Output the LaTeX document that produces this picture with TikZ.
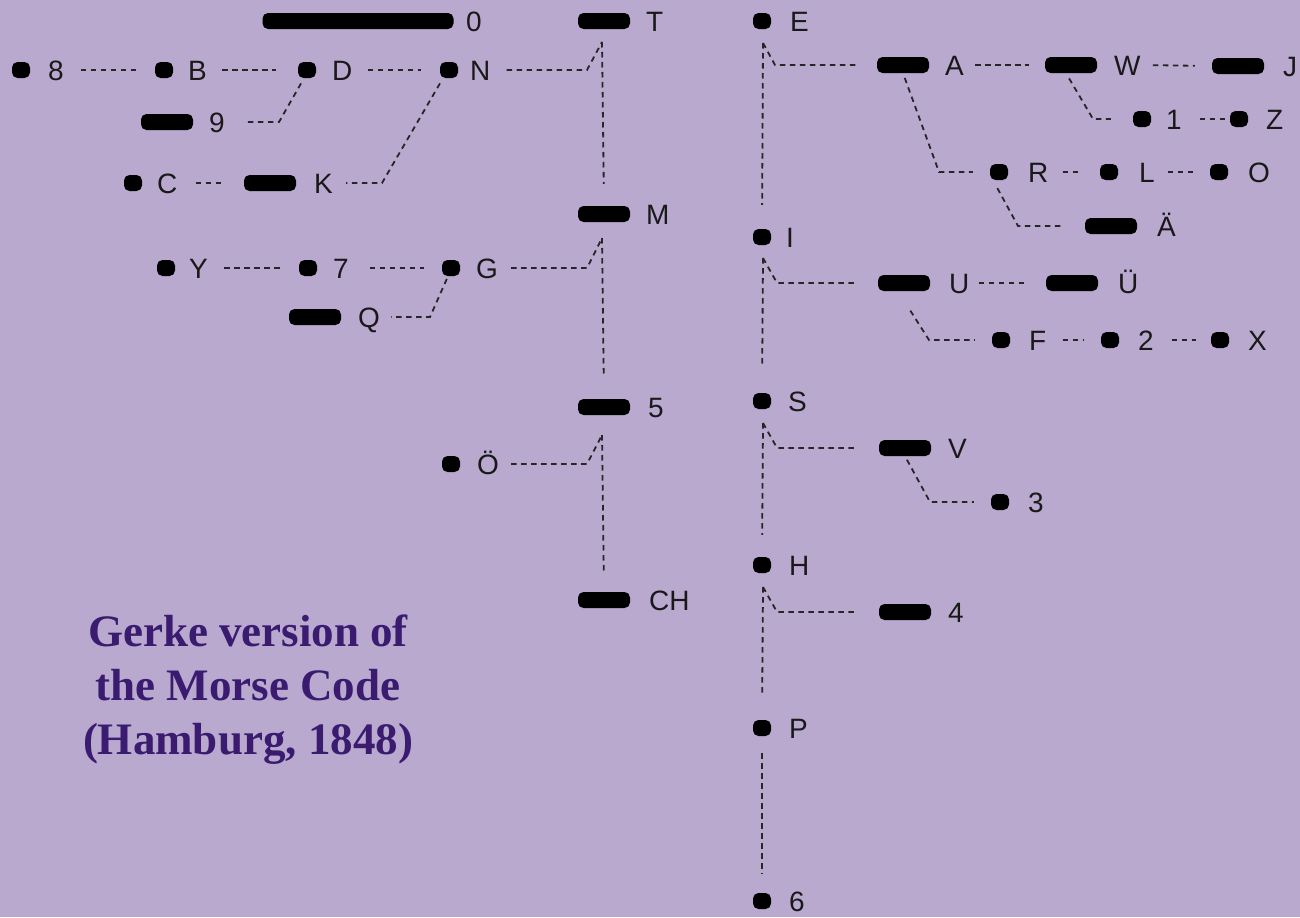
\documentclass[tikz,border=0pt]{standalone}
\usepackage{fontspec}
\setmainfont{Liberation Sans}
\newfontfamily\titlefont{Liberation Serif}
\definecolor{bgc}{HTML}{B9A9CF}
\definecolor{titlec}{HTML}{3A1B70}
\begin{document}
\begin{tikzpicture}[x=1bp,y=-1bp,
  dotsym/.style={fill=black, rounded corners=5.5bp, minimum width=18bp, minimum height=16bp, inner sep=0pt},
  dashsym/.style={dotsym, minimum width=52bp},
  lbl/.style={anchor=west, inner sep=0pt, text height=20bp, text depth=0pt, font=\fontsize{28bp}{28bp}\selectfont, text=black!90},
  conn/.style={draw=black!85, line width=1.8bp, dash pattern=on 5.5bp off 4.5bp}]
\useasboundingbox (0,0) rectangle (1300,917);
\fill[bgc] (0,0) rectangle (1300,917);
% ---------- left tree symbols
\node[dotsym, minimum width=191bp] (s0) at (358,21) {};
\node[dashsym] (sT) at (604,21) {};
\node[dotsym] (s8) at (21,70) {};
\node[dotsym] (sB) at (164,70) {};
\node[dotsym] (sD) at (307,70) {};
\node[dotsym] (sN) at (449,70) {};
\node[dashsym] (s9) at (167,122) {};
\node[dotsym] (sC) at (133,183) {};
\node[dashsym] (sK) at (270,183) {};
\node[dashsym] (sM) at (604,214) {};
\node[dotsym] (sY) at (166,268) {};
\node[dotsym] (s7) at (308,268) {};
\node[dotsym] (sG) at (451,268) {};
\node[dashsym] (sQ) at (315,317) {};
\node[dashsym] (s5) at (604,407) {};
\node[dotsym] (sOe) at (451,464) {};
\node[dashsym] (sCH) at (604,600) {};
% ---------- left labels
\node[lbl] (l0) at (466,21) {0};
\node[lbl] (lT) at (646,21) {T};
\node[lbl] (l8) at (48,70) {8};
\node[lbl] (lB) at (188,70) {B};
\node[lbl] (lD) at (332,70) {D};
\node[lbl] (lN) at (470,70) {N};
\node[lbl] (l9) at (209,122) {9};
\node[lbl] (lC) at (157,183) {C};
\node[lbl] (lK) at (314,183) {K};
\node[lbl] (lM) at (646,214) {M};
\node[lbl] (lY) at (189,268) {Y};
\node[lbl] (l7) at (333,268) {7};
\node[lbl] (lG) at (476,268) {G};
\node[lbl] (lQ) at (358,317) {Q};
\node[lbl] (l5) at (648,407) {5};
\node[lbl] (lOe) at (477,464) {Ö};
\node[lbl] (lCH) at (649,600) {CH};
% ---------- right tree symbols
\node[dotsym] (sE) at (762,21) {};
\node[dashsym] (sA) at (903,65) {};
\node[dashsym] (sW) at (1071,65) {};
\node[dashsym] (sJ) at (1238,66) {};
\node[dotsym] (s1) at (1142,119) {};
\node[dotsym] (sZ) at (1239,119) {};
\node[dotsym] (sR) at (999,172) {};
\node[dotsym] (sL) at (1109,172) {};
\node[dotsym] (sO) at (1219,172) {};
\node[dashsym] (sAe) at (1111,226) {};
\node[dotsym] (sI) at (762,237) {};
\node[dashsym] (sU) at (904,283) {};
\node[dashsym] (sUe) at (1072,283) {};
\node[dotsym] (sF) at (1001,340) {};
\node[dotsym] (s2) at (1110,340) {};
\node[dotsym] (sX) at (1220,340) {};
\node[dotsym] (sS) at (762,401) {};
\node[dashsym] (sV) at (905,448) {};
\node[dotsym] (s3) at (1000,502) {};
\node[dotsym] (sH) at (762,565) {};
\node[dashsym] (s4) at (905,612) {};
\node[dotsym] (sP) at (762,728) {};
\node[dotsym] (s6) at (762,901) {};
% ---------- right labels
\node[lbl] (lE) at (790,21) {E};
\node[lbl] (lA) at (945,65) {A};
\node[lbl] (lW) at (1114,65) {W};
\node[lbl] (lJ) at (1283,66) {J};
\node[lbl] (l1) at (1166,119) {1};
\node[lbl] (lZ) at (1266,119) {Z};
\node[lbl] (lR) at (1028,172) {R};
\node[lbl] (lL) at (1139,172) {L};
\node[lbl] (lO) at (1248,172) {O};
\node[lbl] (lAe) at (1157,226) {Ä};
\node[lbl] (lI) at (786,237) {I};
\node[lbl] (lU) at (949,283) {U};
\node[lbl] (lUe) at (1118,283) {Ü};
\node[lbl] (lF) at (1029,340) {F};
\node[lbl] (l2) at (1138,340) {2};
\node[lbl] (lX) at (1248,340) {X};
\node[lbl] (lS) at (788,401) {S};
\node[lbl] (lV) at (948,448) {V};
\node[lbl] (l3) at (1028,502) {3};
\node[lbl] (lH) at (789,565) {H};
\node[lbl] (l4) at (948,612) {4};
\node[lbl] (lP) at (789,728) {P};
\node[lbl] (l6) at (789,901) {6};
% ---------- title
\node[font=\titlefont\bfseries\fontsize{45bp}{54bp}\selectfont, text=titlec, align=center] (title) at (248,690)
  {Gerke version of\\the Morse Code\\(Hamburg, 1848)};
% ---------- junction coordinates
\coordinate (jT) at (602,42);  \coordinate (kN) at (587,70);
\coordinate (jM) at (602,238); \coordinate (kG) at (587,268);
\coordinate (j5) at (602,435); \coordinate (kOe) at (587,464);
\coordinate (k9) at (279,122); \coordinate (kK) at (382,183);
\coordinate (kQ) at (430,317);
\coordinate (jE) at (763,43);  \coordinate (kA) at (775,65);
\coordinate (jI) at (763,258); \coordinate (kU) at (777,283);
\coordinate (jS) at (763,423); \coordinate (kV) at (777,448);
\coordinate (jH) at (763,587); \coordinate (k4) at (777,612);
\coordinate (k1) at (1093,119); \coordinate (kR) at (939,172);
\coordinate (kAe) at (1018,226); \coordinate (kF) at (929,340);
\coordinate (k3) at (930,502);
% ---------- left connectors
\draw[conn, shorten <=17bp, shorten >=18bp] (l8.east) -- (sB.west);
\draw[conn, shorten <=15bp, shorten >=22bp] (lB.east) -- (sD.west);
\draw[conn, shorten <=15bp, shorten >=19bp] (lD.east) -- (sN.west);
\draw[conn, shorten <=16bp] (lN.east) -- (kN) -- (jT);
\draw[conn, shorten >=22bp] (jT) -- (sM.north);
\draw[conn, shorten <=6bp, shorten >=20bp] ([xshift=-3bp]sD.south) -- (k9) -- (l9.east);
\draw[conn, shorten <=6bp, shorten >=13bp] ([xshift=-6bp]sN.south) -- (kK) -- (lK.east);
\draw[conn, shorten <=18bp, shorten >=20bp] (lC.east) -- (sK.west);
\draw[conn, shorten <=16bp, shorten >=17bp] (lY.east) -- (s7.west);
\draw[conn, shorten <=21bp, shorten >=18bp] (l7.east) -- (sG.west);
\draw[conn, shorten <=13bp] (lG.east) -- (kG) -- (jM);
\draw[conn, shorten >=21bp] (jM) -- (s5.north);
\draw[conn, shorten <=3bp, shorten >=11bp] ([xshift=-3bp]sG.south) -- (kQ) -- (lQ.east);
\draw[conn, shorten <=12bp] (lOe.east) -- (kOe) -- (j5);
\draw[conn, shorten >=18bp] (j5) -- (sCH.north);
% ---------- right connectors
\draw[conn, shorten >=24bp] (jE) -- (sI.north);
\draw[conn, shorten >=20bp] (jE) -- (kA) -- (sA.west);
\draw[conn, shorten <=11bp, shorten >=16bp] (lA.east) -- (sW.west);
\draw[conn, shorten <=12bp, shorten >=17bp] (lW.east) -- (sJ.west);
\draw[conn, shorten <=6bp, shorten >=22bp] ([xshift=-5bp]sW.south) -- (k1) -- (s1.west);
\draw[conn, shorten <=18bp, shorten >=5bp] (l1.east) -- (sZ.west);
\draw[conn, shorten <=5bp, shorten >=17bp] (sA.south) -- (kR) -- (sR.west);
\draw[conn, shorten <=14bp, shorten >=19bp] (lR.east) -- (sL.west);
\draw[conn, shorten <=13bp, shorten >=17bp] (lL.east) -- (sO.west);
\draw[conn, shorten <=9bp, shorten >=21bp] ([xshift=-6bp]sR.south) -- (kAe) -- (sAe.west);
\draw[conn, shorten >=26bp] (jI) -- (sS.north);
\draw[conn, shorten >=21bp] (jI) -- (kU) -- (sU.west);
\draw[conn, shorten <=9bp, shorten >=19bp] (lU.east) -- (sUe.west);
\draw[conn, shorten <=23bp, shorten >=17bp] ([xshift=-6bp]sU.south) -- (kF) -- (sF.west);
\draw[conn, shorten <=16bp, shorten >=18bp] (lF.east) -- (s2.west);
\draw[conn, shorten <=18bp, shorten >=15bp] (l2.east) -- (sX.west);
\draw[conn, shorten >=22bp] (jS) -- (sH.north);
\draw[conn, shorten >=21bp] (jS) -- (kV) -- (sV.west);
\draw[conn, shorten <=4bp, shorten >=17bp] (sV.south) -- (k3) -- (s3.west);
\draw[conn, shorten >=23bp] (jH) -- (sP.north);
\draw[conn, shorten >=21bp] (jH) -- (k4) -- (s4.west);
\draw[conn, shorten <=17bp, shorten >=19bp] (sP.south) -- (s6.north);
\end{tikzpicture}
\end{document}
